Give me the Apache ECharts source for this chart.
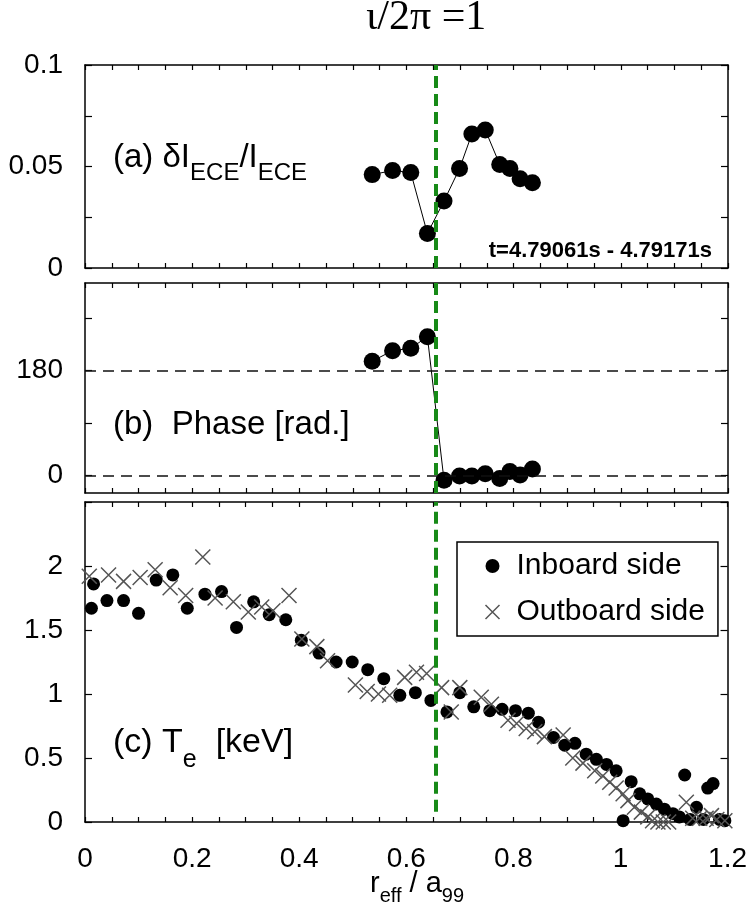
<!DOCTYPE html>
<html>
<head>
<meta charset="utf-8">
<script src="https://cdn.jsdelivr.net/npm/echarts@6/dist/echarts.min.js"></script>
<style>
  html, body { margin: 0; padding: 0; background: #fff; }
  #main { width: 750px; height: 914px; }
</style>
</head>
<body>
<div id="main"></div>
<script>
// ---- data ----
var resonanceX = 0.655;   // iota/2pi = 1

// (a) amplitude dI/I and (b) phase, same channels
var chanX  = [0.536, 0.574, 0.608, 0.639, 0.670, 0.699, 0.722, 0.747, 0.774, 0.793, 0.812, 0.835];
var ampY   = [0.046, 0.048, 0.047, 0.017, 0.033, 0.049, 0.066, 0.068, 0.051, 0.049, 0.044, 0.042];
var phaseY = [196, 214, 218, 238, -8, -1, -1, 3, -5, 7, 1, 11];

// (c) Te profile, inboard side
var inX = [0.012, 0.016, 0.041, 0.072, 0.100, 0.133, 0.164, 0.191, 0.224, 0.255, 0.283, 0.315, 0.344, 0.375,
           0.404, 0.437, 0.469, 0.499, 0.528, 0.558, 0.588, 0.617, 0.646, 0.676, 0.700, 0.726, 0.756, 0.779,
           0.804, 0.828, 0.847, 0.875, 0.896, 0.915, 0.936, 0.955, 0.974, 0.992, 1.005, 1.020, 1.036, 1.051,
           1.067, 1.082, 1.098, 1.110, 1.120, 1.130, 1.142, 1.155, 1.163, 1.173, 1.185, 1.195];
var inY = [1.67, 1.86, 1.73, 1.73, 1.63, 1.89, 1.93, 1.67, 1.78, 1.80, 1.52, 1.72, 1.62, 1.58,
           1.42, 1.32, 1.25, 1.25, 1.19, 1.12, 0.99, 1.01, 0.95, 0.86, 1.01, 0.90, 0.87, 0.88,
           0.87, 0.85, 0.78, 0.66, 0.60, 0.615, 0.53, 0.49, 0.45, 0.40, 0.01, 0.315, 0.22, 0.18,
           0.14, 0.10, 0.065, 0.04, 0.367, 0.02, 0.115, 0.02, 0.265, 0.30, 0.02, 0.01];

// (c) Te profile, outboard side
var outX = [0.008, 0.044, 0.072, 0.103, 0.131, 0.159, 0.188, 0.220, 0.243, 0.277, 0.305, 0.330, 0.351, 0.381,
            0.405, 0.433, 0.453, 0.505, 0.527, 0.548, 0.569, 0.597, 0.619, 0.638, 0.666, 0.684, 0.700, 0.740,
            0.759, 0.790, 0.806, 0.824, 0.840, 0.858, 0.893, 0.911, 0.930, 0.952, 0.967, 0.980, 0.992, 1.005,
            1.014, 1.026, 1.039, 1.051, 1.060, 1.070, 1.080, 1.090, 1.123, 1.135, 1.148, 1.160, 1.170, 1.180, 1.195];
var outY = [1.92, 1.93, 1.88, 1.91, 1.97, 1.83, 1.77, 2.07, 1.75, 1.72, 1.64, 1.68, 1.65, 1.77,
            1.43, 1.37, 1.26, 1.07, 1.02, 1.00, 0.99, 1.13, 1.17, 1.16, 1.05, 0.86, 1.05, 0.975,
            0.92, 0.795, 0.77, 0.73, 0.705, 0.667, 0.68, 0.50, 0.46, 0.40, 0.36, 0.31, 0.265, 0.22,
            0.167, 0.115, 0.077, 0.04, 0.01, 0.0, 0.0, 0.0, 0.155, 0.03, 0.03, 0.03, 0.05, 0.02, 0.01];

var xTickLabels = ['0', '0.2', '0.4', '0.6', '0.8', '1', '1.2'];

function zip(xs, ys) {
    return xs.map(function (x, i) { return [x, ys[i]]; });
}

var font = "'Liberation Sans', Arial, sans-serif";
var Mychart = echarts.init(document.getElementById('main'));

var grids = [
    { left: 85, right: 22, top: 65,  height: 203 },
    { left: 85, right: 22, top: 283, height: 210 },
    { left: 85, right: 22, top: 502, height: 320 }
];

function xAx(grid, pos, labels) {
    return {
        type: 'value', gridIndex: grid, position: pos,
        min: 0, max: 1.2, interval: 0.05,
        axisLine: { show: true, onZero: false, lineStyle: { color: '#000', width: 1.5 } },
        axisTick: { show: true, inside: true, length: 5, lineStyle: { color: '#000', width: 1.2 } },
        splitLine: { show: false },
        axisLabel: {
            show: labels, color: '#000', fontFamily: font, fontSize: 28, margin: 23,
            formatter: function (v) {
                var k = Math.round(v / 0.2);
                return Math.abs(v - k * 0.2) < 1e-6 ? xTickLabels[k] : '';
            }
        }
    };
}

function yAx(grid, pos, opt) {
    var o = {
        type: 'value', gridIndex: grid, position: pos,
        axisLine: { show: true, onZero: false, lineStyle: { color: '#000', width: 1.5 } },
        axisTick: { show: true, inside: true, length: 7, lineStyle: { color: '#000', width: 1.2 } },
        splitLine: { show: false },
        axisLabel: { show: pos === 'left', color: '#000', fontFamily: font, fontSize: 28, margin: 22 }
    };
    for (var k in opt) {
        if (k === 'axisLabel' || k === 'axisTick') { Object.assign(o[k], opt[k]); }
        else { o[k] = opt[k]; }
    }
    return o;
}

var yA = {
    min: 0, max: 0.1, interval: 0.025,
    axisLabel: { formatter: function (v) {
        if (Math.abs(v) < 1e-9) return '0';
        if (Math.abs(v - 0.05) < 1e-9) return '0.05';
        if (Math.abs(v - 0.1) < 1e-9) return '0.1';
        return '';
    } }
};
var yB = {
    min: -30, max: 330,
    axisTick: { customValues: [0, 90, 180, 270] },
    axisLabel: { customValues: [0, 180] }
};
var yC = {
    min: 0, max: 2.5, interval: 0.5,
    axisLabel: { formatter: function (v) { return v > 2.4 ? '' : String(v); } }
};

function greenLine(y0, y1) {
    return {
        silent: true, symbol: 'none', label: { show: false },
        lineStyle: { color: '#178a17', width: 4, type: [12, 6] },
        data: [[{ coord: [resonanceX, y0] }, { coord: [resonanceX, y1] }]]
    };
}

var dashH = {
    silent: true, symbol: 'none', label: { show: false },
    lineStyle: { color: '#111', width: 1.6, type: [11, 7] },
    data: [{ yAxis: 0 }, { yAxis: 180 }]
};

var option = {
    backgroundColor: '#fff',
    animation: false,
    grid: grids,
    xAxis: [xAx(0, 'bottom', false), xAx(0, 'top', false),
            xAx(1, 'bottom', false), xAx(1, 'top', false),
            xAx(2, 'bottom', true),  xAx(2, 'top', false)],
    yAxis: [yAx(0, 'left', yA), yAx(0, 'right', yA),
            yAx(1, 'left', yB), yAx(1, 'right', yB),
            yAx(2, 'left', yC), yAx(2, 'right', yC)],
    legend: {
        orient: 'vertical', left: 457, top: 542,
        borderColor: '#000', borderWidth: 1.5, borderRadius: 0,
        padding: [8, 13, 8, 26], itemGap: 14,
        itemWidth: 14, itemHeight: 14,
        textStyle: { color: '#000', fontFamily: font, fontSize: 30, lineHeight: 32, padding: [0, 0, 0, 12] },
        data: [
            { name: 'Inboard side', icon: 'circle', itemStyle: { color: '#000', opacity: 1 } },
            { name: 'Outboard side', icon: 'path://M0,0L10,10M10,0L0,10',
              itemStyle: { color: 'none', borderColor: '#555', borderWidth: 1.5, opacity: 1 } }
        ]
    },
    series: [
        {
            name: 'amp', type: 'line', xAxisIndex: 0, yAxisIndex: 0,
            data: zip(chanX, ampY),
            symbol: 'circle', symbolSize: 17,
            itemStyle: { color: '#000' },
            lineStyle: { color: '#000', width: 1 },
            markLine: greenLine(0, 0.1)
        },
        {
            name: 'phase', type: 'line', xAxisIndex: 2, yAxisIndex: 2,
            data: zip(chanX, phaseY),
            symbol: 'circle', symbolSize: 17,
            itemStyle: { color: '#000' },
            lineStyle: { color: '#000', width: 1 },
            markLine: dashH
        },
        {
            name: 'green b', type: 'line', xAxisIndex: 2, yAxisIndex: 2, data: [],
            markLine: greenLine(-30, 330)
        },
        {
            name: 'Inboard side', type: 'scatter', xAxisIndex: 4, yAxisIndex: 4,
            data: zip(inX, inY),
            symbol: 'circle', symbolSize: 13,
            itemStyle: { color: '#000', opacity: 1 },
            markLine: greenLine(0.08, 2.5)
        },
        {
            name: 'Outboard side', type: 'scatter', xAxisIndex: 4, yAxisIndex: 4,
            data: zip(outX, outY),
            symbol: 'path://M0,0L10,10M10,0L0,10', symbolSize: 15,
            itemStyle: { color: 'none', borderColor: '#555', borderWidth: 1.5, opacity: 1 },
            z: 3
        }
    ],
    graphic: [
        { type: 'text', left: 366, top: -3,
          style: { text: 'ι/2π =1', fontFamily: "'Liberation Serif', 'Times New Roman', serif", fontSize: 42, fill: '#000' } },
        { type: 'text', left: 113, top: 141,
          style: {
              text: '{n|(a) δI}{s|ECE}{n|/I}{s|ECE}',
              rich: {
                  n: { fontFamily: font, fontSize: 33, lineHeight: 34, verticalAlign: 'top', fill: '#000' },
                  s: { fontFamily: font, fontSize: 24, lineHeight: 64, fill: '#000' }
              }
          } },
        { type: 'text', right: 38, top: 240,
          style: { text: 't=4.79061s - 4.79171s', fontFamily: font, fontWeight: 'bold', fontSize: 22, fill: '#000' } },
        { type: 'text', left: 113, top: 408,
          style: { text: '(b)  Phase [rad.]', fontFamily: font, fontSize: 33, fill: '#000' } },
        { type: 'text', left: 113, top: 726,
          style: {
              text: '{n|(c) T}{s|e}{n|  [keV]}',
              rich: {
                  n: { fontFamily: font, fontSize: 34, lineHeight: 36, verticalAlign: 'top', fill: '#000' },
                  s: { fontFamily: font, fontSize: 25, lineHeight: 68, fill: '#000' }
              }
          } },
        { type: 'text', left: 370, top: 869,
          style: {
              text: '{n|r}{s|eff}{n| / a}{s|99}',
              rich: {
                  n: { fontFamily: font, fontSize: 29, lineHeight: 30, verticalAlign: 'top', fill: '#000' },
                  s: { fontFamily: font, fontSize: 20, lineHeight: 54, fill: '#000' }
              }
          } }
    ]
};
Mychart.setOption(option);
</script>
</body>
</html>
